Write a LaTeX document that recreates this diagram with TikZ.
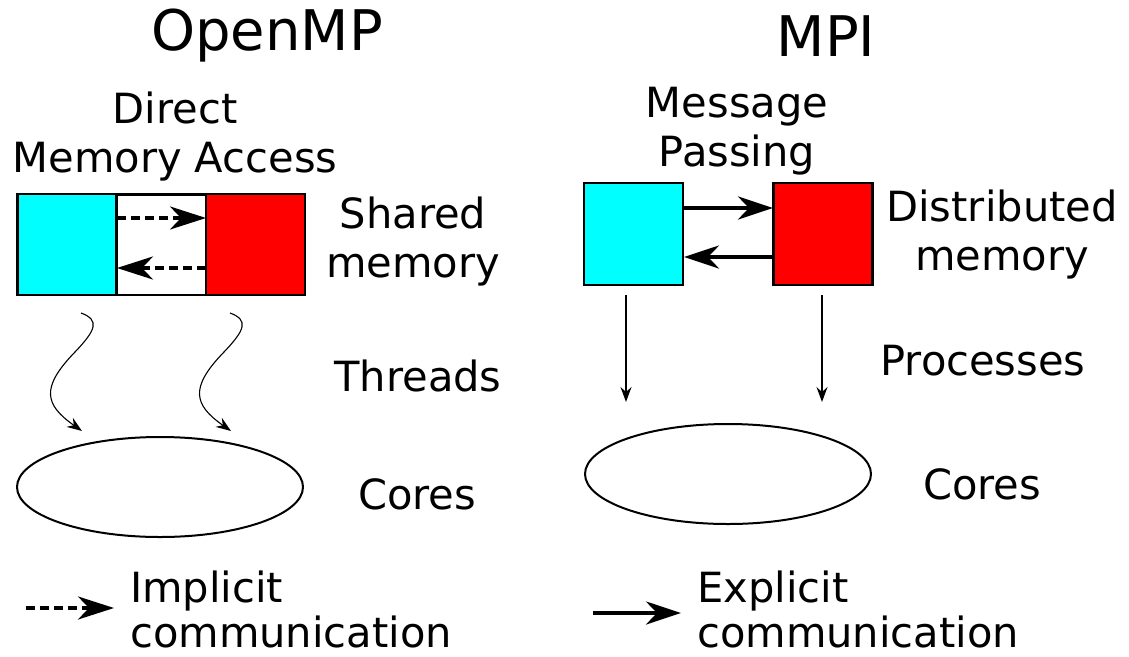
\documentclass[tikz,border=0pt]{standalone}
\usepackage{fontspec}
\setmainfont{DejaVu Sans}
\usetikzlibrary{arrows.meta,shapes.geometric}
\definecolor{cyanbox}{RGB}{0,255,255}
\definecolor{redbox}{RGB}{255,0,0}
\tikzset{
  big/.style={font=\fontsize{56}{60}\selectfont},
  lbl/.style={font=\fontsize{41.6}{49}\selectfont, align=center, inner sep=0pt},
  leg/.style={font=\fontsize{41.6}{49}\selectfont, inner sep=0pt, anchor=base west, text depth=0pt},
  box/.style={draw=black, line width=2.5pt, minimum width=99pt, minimum height=101pt, inner sep=0pt},
  dasharrow/.style={line width=3.6pt, dash pattern=on 9pt off 5pt, -{Stealth[length=36pt,width=23pt,inset=11pt]}},
  solidarrow/.style={line width=4pt, -{Stealth[length=35pt,width=23pt,inset=11pt]}},
  thinarrow/.style={line width=1.1pt, -{Stealth[length=15pt,width=11pt,inset=5pt]}},
  core/.style={draw=black, line width=2pt, ellipse, minimum width=286pt, minimum height=100pt}
}
\begin{document}
\begin{tikzpicture}[x=1pt,y=-1pt]
\useasboundingbox (0,0) rectangle (1129,656);
% titles
\node[big] (t1) at (267,36) {OpenMP};
\node[big] (t2) at (826,36) {MPI};
% left labels
\node[lbl] (dma) at (175,137) {Direct\\Memory Access};
\node[lbl] (sh) at (413,242) {Shared\\memory};
\node[lbl] (thr) at (418,376) {Threads};
\node[lbl] (c1) at (417,494) {Cores};
% right labels
\node[lbl] (mp) at (737,131) {Message\\Passing};
\node[lbl] (dm) at (1002,235) {Distributed\\memory};
\node[lbl] (pr) at (983,361) {Processes};
\node[lbl] (c2) at (982,484) {Cores};
% left boxes
\draw[line width=2.5pt] (117,194.5) rectangle (206,295);
\node[box, fill=cyanbox] (lc) at (67,244.5) {};
\node[box, fill=redbox] (lr) at (255.5,244.5) {};
\coordinate (lc1) at (117,218); \coordinate (lr1) at (206,218);
\coordinate (lc2) at (117,268); \coordinate (lr2) at (206,268);
\draw[dasharrow] (lc1) -- (lr1);
\draw[dasharrow] (lr2) -- (lc2);
% right boxes
\node[box, fill=cyanbox, minimum height=102pt] (rc) at (633.5,234) {};
\node[box, fill=redbox, minimum height=102pt] (rr) at (823,234) {};
\coordinate (rc1) at (684,208); \coordinate (rr1) at (773,208);
\coordinate (rc2) at (684,257); \coordinate (rr2) at (773,257);
\draw[solidarrow] (rc1) -- (rr1);
\draw[solidarrow] (rr2) -- (rc2);
% ellipses
\node[core] (e1) at (160,487) {};
\node[core] (e2) at (728,474) {};
% thread curves
\coordinate (a1) at (81,313); \coordinate (b1) at (82,431);
\coordinate (a2) at (230,313); \coordinate (b2) at (231,431);
\draw[thinarrow] (a1) .. controls (100,320) and (96,330) .. (75,352) .. controls (40,388) and (45,405) .. (b1);
\draw[thinarrow] (a2) .. controls (249,320) and (245,330) .. (224,352) .. controls (189,388) and (194,405) .. (b2);
% process arrows
\coordinate (p1) at (626,295); \coordinate (q1) at (626,402);
\coordinate (p2) at (822,295); \coordinate (q2) at (822,402);
\draw[thinarrow] (p1) -- (q1);
\draw[thinarrow] (p2) -- (q2);
% legend
\coordinate (la) at (26,608); \coordinate (lb) at (114,608);
\draw[dasharrow] (la) -- (lb);
\node[leg] (imp) at (130,602) {Implicit};
\node[leg] (imp2) at (130,647) {communication};
\coordinate (ra) at (593,613); \coordinate (rb) at (681,613);
\draw[solidarrow] (ra) -- (rb);
\node[leg] (exp) at (697,602) {Explicit};
\node[leg] (exp2) at (697,647) {communication};
\end{tikzpicture}
\end{document}
